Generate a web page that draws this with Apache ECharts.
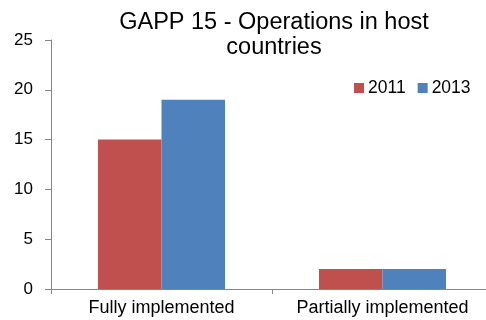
<!DOCTYPE html>
<html>
<head>
<meta charset="utf-8">
<script src="https://cdn.jsdelivr.net/npm/echarts@6/dist/echarts.min.js"></script>
<style>
  html, body { margin: 0; padding: 0; background: #fff; }
  #chart { width: 486px; height: 320px; }
</style>
</head>
<body>
<div id="chart"></div>
<script>
// Chart data
const categories = ['Fully implemented', 'Partially implemented'];
const seriesNames = ['2011', '2013'];
const values2011 = [15, 2];
const values2013 = [19, 2];
const yTicks = { min: 0, max: 25, interval: 5 };

const axisGrey = '#868686';
const font = 'Liberation Sans, Arial, sans-serif';

const chart = echarts.init(document.getElementById('chart'), null, { renderer: 'canvas' });

chart.setOption({
  animation: false,
  backgroundColor: '#ffffff',
  title: {
    text: 'GAPP 15 - Operations in host\ncountries',
    left: 274,
    top: 10,
    textAlign: 'center',
    padding: 0,
    textStyle: {
      fontFamily: font,
      fontSize: 23.5,
      fontWeight: 'normal',
      color: '#000',
      lineHeight: 25
    }
  },
  legend: {
    data: seriesNames,
    left: 354,
    top: 79,
    padding: 0,
    itemWidth: 10,
    itemHeight: 10,
    itemGap: 12,
    icon: 'rect',
    textStyle: { fontFamily: font, fontSize: 17.5, color: '#000', padding: [0, 0, 0, -1] }
  },
  // plot area runs slightly past the right edge of the canvas
  grid: {
    left: 51, width: 442, top: 40, bottom: 31,
    containLabel: false,
    outerBoundsMode: 'none'
  },
  xAxis: {
    type: 'category',
    data: categories,
    axisLine: { lineStyle: { color: axisGrey, width: 1 } },
    axisTick: { show: true, length: 5, inside: false, lineStyle: { color: axisGrey } },
    axisLabel: { fontFamily: font, fontSize: 18, color: '#000', margin: 10, interval: 0, hideOverlap: false },
    splitLine: { show: false }
  },
  yAxis: {
    type: 'value',
    min: yTicks.min,
    max: yTicks.max,
    interval: yTicks.interval,
    axisLine: { show: true, lineStyle: { color: axisGrey, width: 1 } },
    axisTick: { show: true, length: 6, lineStyle: { color: axisGrey } },
    axisLabel: { fontFamily: font, fontSize: 17, color: '#000', margin: 18 },
    splitLine: { show: false }
  },
  series: [
    {
      name: seriesNames[0],
      type: 'bar',
      data: values2011,
      barGap: '0%',
      barCategoryGap: '42.5%',
      itemStyle: { color: '#C0504D' }
    },
    {
      name: seriesNames[1],
      type: 'bar',
      data: values2013,
      barGap: '0%',
      barCategoryGap: '42.5%',
      itemStyle: { color: '#4F81BD' }
    }
  ]
});
</script>
</body>
</html>
